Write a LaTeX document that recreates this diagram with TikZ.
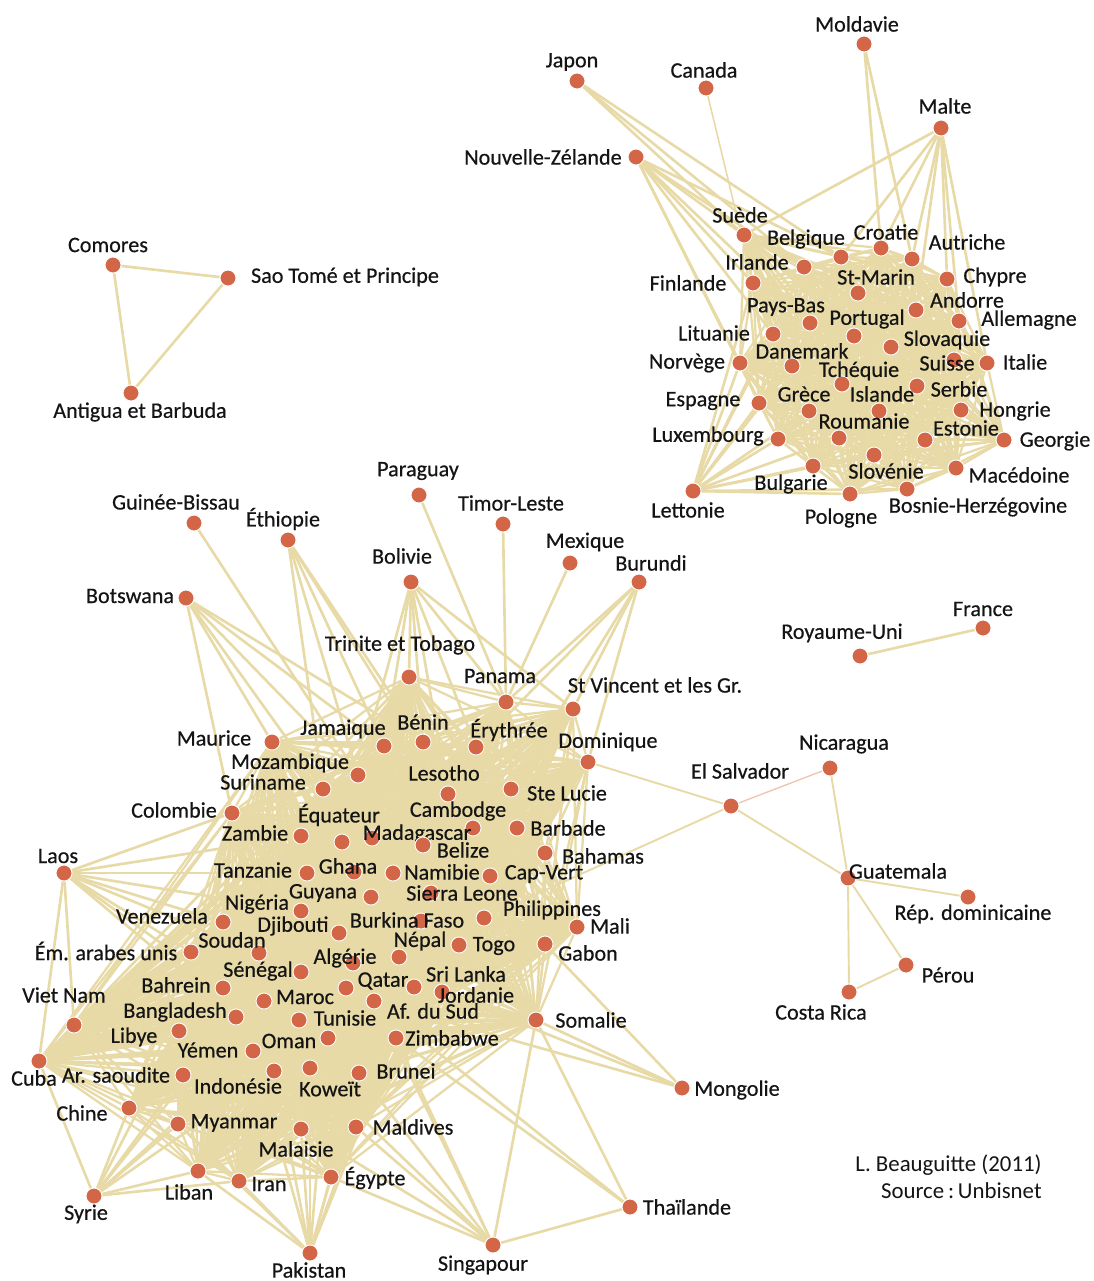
\documentclass[tikz,border=0pt]{standalone}
\usepackage{fontspec}
\setmainfont{Carlito}
\newfontfamily\paysfont[FakeBold=0.5]{Carlito}
\usepackage{tikz}
\usetikzlibrary{backgrounds}

\definecolor{beige}{RGB}{232,218,166}
\definecolor{pastille}{RGB}{212,102,72}
\definecolor{rose}{RGB}{240,198,178}

% pays tres lies : graphes complets
\def\europe{sue,bel,cro,aut,irl,fin,smr,chy,ando,all,pb,por,lit,svk,dan,nor,sui,ita,tch,ser,gre,isl,esp,hon,rou,est,lux,geo,slo,mac,bul,pol,bos}
\def\sud{tri,pan,svg,mau,jam,ben,ery,dom,moz,sur,les,stl,col,equ,zam,cam,bar,mad,blz,bah,tan,gha,nam,cv,guy,sl,nig,phi,bf,mali,ven,dji,sou,ema,tog,gab,nep,alg,sen,qat,sri,jor,bhr,mar,vn,afs,bgd,tun,som,lib,oma,zim,yem,cub,sau,ind,kow,bru,chi,mya,mys,mld,lbn,ira,egy}

\begin{document}
\begin{tikzpicture}[x=0.02cm,y=-0.02cm,
  pays/.style={circle,fill=pastille,draw=white,line width=0.5pt,inner sep=0pt,minimum size=0.32cm},
  txt/.style={font=\paysfont\fontsize{12.6}{14}\selectfont,text=black!92,inner sep=0pt},
  arete/.style={draw=beige,line width=1.5pt},
  dense/.style={draw=beige,line width=1.3pt}]
\useasboundingbox (0,0) rectangle (1094,1281);

% isoles
\node (com) [pays] at (113,265) {};  \node (t-com) [txt] at (108,245) {Comores};
\node (sao) [pays] at (228,278) {};  \node (t-sao) [txt] at (345,277) {Sao Tomé et Principe};
\node (ant) [pays] at (131,393) {};  \node (t-ant) [txt] at (140,412) {Antigua et Barbuda};
\node (ru) [pays] at (860,656) {};   \node (t-ru) [txt] at (842,633) {Royaume-Uni};
\node (fra) [pays] at (983,628) {};  \node (t-fra) [txt] at (983,609) {France};

% Europe et cie
\node (jap) [pays] at (577,81) {};   \node (t-jap) [txt] at (572,62) {Japon};
\node (can) [pays] at (706,88) {};   \node (t-can) [txt] at (704,70) {Canada};
\node (mol) [pays] at (864,44) {};   \node (t-mol) [txt] at (857,24) {Moldavie};
\node (mal) [pays] at (941,128) {};  \node (t-mal) [txt] at (945,106) {Malte};
\node (nz) [pays] at (636,157) {};   \node (t-nz) [txt] at (543,157) {Nouvelle-Zélande};
\node (sue) [pays] at (744,235) {};  \node (t-sue) [txt] at (740,215) {Suède};
\node (bel) [pays] at (841,257) {};  \node (t-bel) [txt] at (806,239) {Belgique};
\node (cro) [pays] at (881,248) {};  \node (t-cro) [txt] at (886,232) {Croatie};
\node (aut) [pays] at (912,259) {};  \node (t-aut) [txt] at (967,242) {Autriche};
\node (irl) [pays] at (804,267) {};  \node (t-irl) [txt] at (757,262) {Irlande};
\node (fin) [pays] at (753,283) {};  \node (t-fin) [txt] at (688,283) {Finlande};
\node (smr) [pays] at (858,293) {};  \node (t-smr) [txt] at (876,277) {St-Marin};
\node (chy) [pays] at (947,279) {};  \node (t-chy) [txt] at (995,277) {Chypre};
\node (ando) [pays] at (916,310) {}; \node (t-ando) [txt] at (967,300) {Andorre};
\node (all) [pays] at (959,321) {};  \node (t-all) [txt] at (1029,320) {Allemagne};
\node (pb) [pays] at (810,323) {};   \node (t-pb) [txt] at (786,307) {Pays-Bas};
\node (por) [pays] at (854,336) {};  \node (t-por) [txt] at (867,319) {Portugal};
\node (lit) [pays] at (773,334) {};  \node (t-lit) [txt] at (714,333) {Lituanie};
\node (svk) [pays] at (891,347) {};  \node (t-svk) [txt] at (947,340) {Slovaquie};
\node (dan) [pays] at (792,366) {};  \node (t-dan) [txt] at (802,351) {Danemark};
\node (nor) [pays] at (740,363) {};  \node (t-nor) [txt] at (687,363) {Norvège};
\node (sui) [pays] at (954,360) {};  \node (t-sui) [txt] at (947,363) {Suisse};
\node (ita) [pays] at (987,363) {};  \node (t-ita) [txt] at (1025,362) {Italie};
\node (tch) [pays] at (842,384) {};  \node (t-tch) [txt] at (859,371) {Tchéquie};
\node (ser) [pays] at (917,386) {};  \node (t-ser) [txt] at (959,389) {Serbie};
\node (gre) [pays] at (809,411) {};  \node (t-gre) [txt] at (804,394) {Grèce};
\node (isl) [pays] at (879,411) {};  \node (t-isl) [txt] at (882,394) {Islande};
\node (esp) [pays] at (759,403) {};  \node (t-esp) [txt] at (703,401) {Espagne};
\node (hon) [pays] at (961,410) {};  \node (t-hon) [txt] at (1015,411) {Hongrie};
\node (rou) [pays] at (839,438) {};  \node (t-rou) [txt] at (864,421) {Roumanie};
\node (est) [pays] at (925,440) {};  \node (t-est) [txt] at (966,428) {Estonie};
\node (lux) [pays] at (778,439) {};  \node (t-lux) [txt] at (708,436) {Luxembourg};
\node (geo) [pays] at (1004,440) {}; \node (t-geo) [txt] at (1055,441) {Georgie};
\node (slo) [pays] at (874,455) {};  \node (t-slo) [txt] at (886,471) {Slovénie};
\node (mac) [pays] at (956,468) {};  \node (t-mac) [txt] at (1019,475) {Macédoine};
\node (bul) [pays] at (813,466) {};  \node (t-bul) [txt] at (791,484) {Bulgarie};
\node (let) [pays] at (693,491) {};  \node (t-let) [txt] at (688,510) {Lettonie};
\node (pol) [pays] at (850,494) {};  \node (t-pol) [txt] at (841,518) {Pologne};
\node (bos) [pays] at (907,489) {};  \node (t-bos) [txt] at (978,507) {Bosnie-Herzégovine};

% Sud
\node (gb) [pays] at (194,523) {};   \node (t-gb) [txt] at (176,502) {Guinée-Bissau};
\node (eth) [pays] at (288,540) {};  \node (t-eth) [txt] at (283,519) {Éthiopie};
\node (par) [pays] at (419,495) {};  \node (t-par) [txt] at (418,471) {Paraguay};
\node (tim) [pays] at (503,524) {};  \node (t-tim) [txt] at (511,503) {Timor-Leste};
\node (mex) [pays] at (570,563) {};  \node (t-mex) [txt] at (585,542) {Mexique};
\node (bur) [pays] at (639,582) {};  \node (t-bur) [txt] at (651,563) {Burundi};
\node (bol) [pays] at (411,582) {};  \node (t-bol) [txt] at (402,556) {Bolivie};
\node (bots) [pays] at (186,598) {}; \node (t-bots) [txt] at (130,596) {Botswana};
\node (tri) [pays] at (409,677) {};  \node (t-tri) [txt] at (400,645) {Trinite et Tobago};
\node (pan) [pays] at (506,702) {};  \node (t-pan) [txt] at (500,676) {Panama};
\node (svg) [pays] at (573,709) {};  \node (t-svg) [txt] at (655,685) {St Vincent et les Gr.};
\node (mau) [pays] at (272,742) {};  \node (t-mau) [txt] at (214,738) {Maurice};
\node (jam) [pays] at (384,746) {};  \node (t-jam) [txt] at (343,729) {Jamaique};
\node (ben) [pays] at (423,742) {};  \node (t-ben) [txt] at (423,722) {Bénin};
\node (ery) [pays] at (476,747) {};  \node (t-ery) [txt] at (509,730) {Érythrée};
\node (dom) [pays] at (588,762) {};  \node (t-dom) [txt] at (608,742) {Dominique};
\node (moz) [pays] at (358,775) {};  \node (t-moz) [txt] at (290,763) {Mozambique};
\node (sur) [pays] at (323,789) {};  \node (t-sur) [txt] at (263,782) {Suriname};
\node (les) [pays] at (448,794) {};  \node (t-les) [txt] at (444,773) {Lesotho};
\node (stl) [pays] at (511,789) {};  \node (t-stl) [txt] at (567,793) {Ste Lucie};
\node (col) [pays] at (232,813) {};  \node (t-col) [txt] at (174,810) {Colombie};
\node (equ) [pays] at (342,842) {};  \node (t-equ) [txt] at (339,815) {Équateur};
\node (zam) [pays] at (301,836) {};  \node (t-zam) [txt] at (255,833) {Zambie};
\node (cam) [pays] at (473,828) {};  \node (t-cam) [txt] at (458,811) {Cambodge};
\node (bar) [pays] at (517,828) {};  \node (t-bar) [txt] at (568,828) {Barbade};
\node (mad) [pays] at (372,838) {};  \node (t-mad) [txt] at (417,834) {Madagascar};
\node (blz) [pays] at (423,845) {};  \node (t-blz) [txt] at (463,850) {Belize};
\node (bah) [pays] at (545,853) {};  \node (t-bah) [txt] at (603,856) {Bahamas};
\node (lao) [pays] at (64,873) {};   \node (t-lao) [txt] at (58,856) {Laos};
\node (tan) [pays] at (307,873) {};  \node (t-tan) [txt] at (253,870) {Tanzanie};
\node (gha) [pays] at (354,872) {};  \node (t-gha) [txt] at (348,866) {Ghana};
\node (nam) [pays] at (393,873) {};  \node (t-nam) [txt] at (442,872) {Namibie};
\node (cv) [pays] at (490,876) {};   \node (t-cv) [txt] at (544,874) {Cap-Vert};
\node (guy) [pays] at (371,897) {};  \node (t-guy) [txt] at (323,893) {Guyana};
\node (sl) [pays] at (431,893) {};   \node (t-sl) [txt] at (462,893) {Sierra Leone};
\node (nig) [pays] at (301,911) {};  \node (t-nig) [txt] at (257,904) {Nigéria};
\node (phi) [pays] at (484,918) {};  \node (t-phi) [txt] at (552,910) {Philippines};
\node (bf) [pays] at (421,921) {};   \node (t-bf) [txt] at (407,920) {Burkina Faso};
\node (mali) [pays] at (577,927) {}; \node (t-mali) [txt] at (610,926) {Mali};
\node (ven) [pays] at (223,922) {};  \node (t-ven) [txt] at (162,916) {Venezuela};
\node (dji) [pays] at (339,933) {};  \node (t-dji) [txt] at (293,926) {Djibouti};
\node (sou) [pays] at (259,953) {};  \node (t-sou) [txt] at (232,940) {Soudan};
\node (ema) [pays] at (191,952) {};  \node (t-ema) [txt] at (106,951) {Ém. arabes unis};
\node (tog) [pays] at (459,945) {};  \node (t-tog) [txt] at (494,946) {Togo};
\node (gab) [pays] at (545,944) {};  \node (t-gab) [txt] at (588,953) {Gabon};
\node (nep) [pays] at (399,957) {};  \node (t-nep) [txt] at (420,941) {Népal};
\node (alg) [pays] at (353,963) {};  \node (t-alg) [txt] at (345,958) {Algérie};
\node (sen) [pays] at (301,972) {};  \node (t-sen) [txt] at (258,971) {Sénégal};
\node (qat) [pays] at (346,988) {};  \node (t-qat) [txt] at (383,981) {Qatar};
\node (sri) [pays] at (414,987) {};  \node (t-sri) [txt] at (466,974) {Sri Lanka};
\node (jor) [pays] at (442,992) {};  \node (t-jor) [txt] at (476,995) {Jordanie};
\node (bhr) [pays] at (223,988) {};  \node (t-bhr) [txt] at (176,985) {Bahrein};
\node (mar) [pays] at (264,1001) {}; \node (t-mar) [txt] at (305,997) {Maroc};
\node (vn) [pays] at (74,1025) {};   \node (t-vn) [txt] at (64,995) {Viet Nam};
\node (afs) [pays] at (374,1001) {}; \node (t-afs) [txt] at (433,1011) {Af. du Sud};
\node (bgd) [pays] at (236,1017) {}; \node (t-bgd) [txt] at (175,1012) {Bangladesh};
\node (tun) [pays] at (299,1020) {}; \node (t-tun) [txt] at (345,1018) {Tunisie};
\node (som) [pays] at (536,1020) {}; \node (t-som) [txt] at (591,1020) {Somalie};
\node (lib) [pays] at (179,1031) {}; \node (t-lib) [txt] at (134,1037) {Libye};
\node (oma) [pays] at (328,1038) {}; \node (t-oma) [txt] at (289,1041) {Oman};
\node (zim) [pays] at (396,1038) {}; \node (t-zim) [txt] at (452,1038) {Zimbabwe};
\node (yem) [pays] at (253,1051) {}; \node (t-yem) [txt] at (208,1050) {Yémen};
\node (cub) [pays] at (39,1061) {};  \node (t-cub) [txt] at (34,1078) {Cuba};
\node (sau) [pays] at (183,1075) {}; \node (t-sau) [txt] at (116,1075) {Ar. saoudite};
\node (ind) [pays] at (274,1071) {}; \node (t-ind) [txt] at (238,1086) {Indonésie};
\node (kow) [pays] at (310,1068) {}; \node (t-kow) [txt] at (330,1089) {Koweït};
\node (bru) [pays] at (359,1073) {}; \node (t-bru) [txt] at (406,1071) {Brunei};
\node (mon) [pays] at (682,1088) {}; \node (t-mon) [txt] at (737,1090) {Mongolie};
\node (chi) [pays] at (129,1108) {}; \node (t-chi) [txt] at (82,1113) {Chine};
\node (mya) [pays] at (178,1124) {}; \node (t-mya) [txt] at (234,1123) {Myanmar};
\node (mys) [pays] at (301,1129) {}; \node (t-mys) [txt] at (296,1149) {Malaisie};
\node (mld) [pays] at (356,1127) {}; \node (t-mld) [txt] at (413,1127) {Maldives};
\node (lbn) [pays] at (198,1171) {}; \node (t-lbn) [txt] at (189,1192) {Liban};
\node (ira) [pays] at (239,1181) {}; \node (t-ira) [txt] at (269,1184) {Iran};
\node (egy) [pays] at (331,1177) {}; \node (t-egy) [txt] at (375,1178) {Égypte};
\node (syr) [pays] at (94,1196) {};  \node (t-syr) [txt] at (86,1214) {Syrie};
\node (tha) [pays] at (630,1207) {}; \node (t-tha) [txt] at (687,1207) {Thaïlande};
\node (pak) [pays] at (310,1253) {}; \node (t-pak) [txt] at (309,1270) {Pakistan};
\node (sin) [pays] at (493,1245) {}; \node (t-sin) [txt] at (483,1265) {Singapour};

% Amerique centrale
\node (sal) [pays] at (731,806) {};  \node (t-sal) [txt] at (740,771) {El Salvador};
\node (nic) [pays] at (830,768) {};  \node (t-nic) [txt] at (844,744) {Nicaragua};
\node (gua) [pays] at (848,878) {};  \node (t-gua) [txt] at (898,871) {Guatemala};
\node (rdo) [pays] at (968,897) {};  \node (t-rdo) [txt] at (973,914) {Rép. dominicaine};
\node (per) [pays] at (906,965) {};  \node (t-per) [txt] at (948,975) {Pérou};
\node (cri) [pays] at (849,992) {};  \node (t-cri) [txt] at (821,1012) {Costa Rica};

\node (auteur) [txt,anchor=east,font=\fontsize{13}{15}\selectfont] at (1042,1165) {L. Beauguitte (2011)};
\node (source) [txt,anchor=east,font=\fontsize{13}{15}\selectfont] at (1042,1191) {Source\,:\,Unbisnet};

\begin{pgfonlayer}{background}
  \foreach \a [count=\i] in \europe {
    \foreach \b [count=\j] in \europe {
      \ifnum\j>\i \draw[dense] (\a) -- (\b); \fi
    }
  }
  \foreach \a [count=\i] in \sud {
    \foreach \b [count=\j] in \sud {
      \ifnum\j>\i \draw[dense] (\a) -- (\b); \fi
    }
  }
  \path[arete] (com) edge (sao) edge (ant)
    (sao) edge (ant)
    (ru) edge (fra);
  \path[arete] (jap) edge (sue) edge (irl) edge (bel)
    (can) edge[line width=0.9pt] (fin)
    (nz) edge (sue) edge (irl) edge (fin) edge (lit) edge (nor) edge (bel) edge (pb) edge (esp)
    (mol) edge (cro) edge (aut)
    (mal) edge (sue) edge (bel) edge (cro) edge (aut) edge (chy) edge (ando) edge (all) edge (ita)
    (let) edge (fin) edge (irl) edge (lit) edge (nor) edge (esp) edge (lux) edge (dan) edge (gre)
      edge (bul) edge (rou) edge (slo) edge (pol) edge (bos);
  \path[arete] (gb) edge (moz)
    (eth) edge (jam) edge (moz) edge (sur) edge (ben) edge (les)
    (bots) edge (mau) edge (moz) edge (sur) edge (jam) edge (ben) edge (col)
    (bol) edge (tri) edge (jam) edge (ben) edge (ery) edge (pan) edge (svg) edge (moz) edge (les)
    (par) edge (pan)
    (tim) edge (pan)
    (mex) edge (pan)
    (bur) edge (pan) edge (svg) edge (ery) edge (dom) edge (stl)
    (lao) edge (col) edge (zam) edge (tan) edge (nig) edge (ven) edge (sou) edge (ema)
      edge (vn) edge (cub) edge (bhr) edge (bgd)
    (mon) edge (som) edge (gab) edge (jor) edge (afs)
    (tha) edge (sin) edge (som) edge (zim) edge (afs)
    (sin) edge (mld) edge (egy) edge (bru) edge (zim) edge (kow) edge (som) edge (mys) edge (afs)
    (pak) edge (lbn) edge (ira) edge (mya) edge (mys) edge (egy) edge (mld) edge (kow)
      edge (ind) edge (bru) edge (oma) edge (yem) edge (zim)
    (syr) edge (cub) edge (chi) edge (mya) edge (lbn) edge (ira) edge (sau) edge (lib)
      edge (yem) edge (ind) edge (bgd);
  \path[arete,line width=1.1pt] (sal) edge (dom) edge (phi) edge (gua)
    (nic) edge (gua)
    (gua) edge (rdo) edge (per) edge (cri)
    (cri) edge (per);
  \path[draw=rose,line width=0.8pt] (sal) edge (nic);
\end{pgfonlayer}
\end{tikzpicture}
\end{document}
